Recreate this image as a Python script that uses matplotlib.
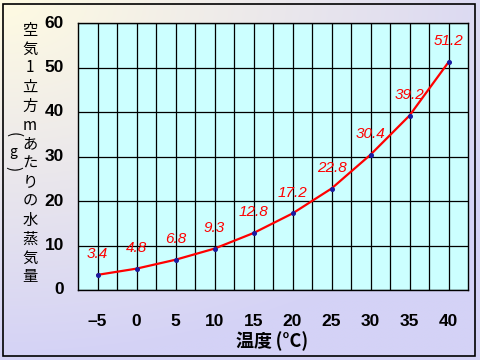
import numpy as np
import matplotlib
matplotlib.use("Agg")
from matplotlib import pyplot
from matplotlib.patches import Rectangle

# 気温ごとの飽和水蒸気量
temps = [-5, 0, 5, 10, 15, 20, 25, 30, 35, 40]
vapor = [3.4, 4.8, 6.8, 9.3, 12.8, 17.2, 22.8, 30.4, 39.2, 51.2]
point_labels = ["3.4", "4.8", "6.8", "9.3", "12.8", "17.2", "22.8", "30.4", "39.2", "51.2"]
xticks = [-5, 0, 5, 10, 15, 20, 25, 30, 35, 40]
xtick_labels = ["\u20135", "0", "5", "10", "15", "20", "25", "30", "35", "40"]
yticks = [0, 10, 20, 30, 40, 50, 60]
ylabel_chars = ["空", "気", "1", "立", "方", "m", "あ", "た", "り", "の", "水", "蒸", "気", "量"]
xlabel = "温度\u2009(°C)"

JP = ["Noto Sans CJK JP", "DejaVu Sans"]
LAT = ["Liberation Sans", "DejaVu Sans"]

W, H = 480, 360
fig = pyplot.figure(figsize=(4.8, 3.6), dpi=100)

# 背景のグラデーション (左上がクリーム色、右下がラベンダー)
bg = fig.add_axes([0, 0, 1, 1])
bg.set_axis_off()
yy, xx = np.mgrid[0:1:200j, 0:1:200j]
t = np.clip(np.sqrt((xx * 0.9) ** 2 + (yy * 1.1) ** 2) / 1.1, 0, 1)
c0 = np.array([255, 251, 226]) / 255
c1 = np.array([212, 210, 246]) / 255
img = c0[None, None, :] * (1 - t[..., None]) + c1[None, None, :] * t[..., None]
bg.imshow(img, extent=[0, 1, 0, 1], origin="upper", aspect="auto")
bg.set_xlim(0, 1)
bg.set_ylim(0, 1)
bg.add_patch(Rectangle((3 / W, 4 / H), 472 / W, 352 / H, fill=False,
                       edgecolor="black", linewidth=1.2))

ax = fig.add_axes([78 / W, 1 - 290 / H, 390 / W, 267 / H])
ax.set_facecolor("#ccffff")
ax.set_xlim(-7.5, 42.5)
ax.set_ylim(0, 60)
ax.set_xticks(np.arange(-5, 42.5, 2.5), minor=False)
ax.set_yticks(yticks)
ax.grid(True, color="black", linewidth=0.9)
ax.tick_params(length=0, labelbottom=False, labelleft=False)
for s in ax.spines.values():
    s.set_linewidth(1.0)
    s.set_color("black")

ax.plot(temps, vapor, color="#ff0000", linewidth=1.6, zorder=3)
ax.plot(temps, vapor, linestyle="none", marker="o", markersize=2.6,
        color="#1a1aa0", zorder=4)
for x, y, lab in zip(temps, vapor, point_labels):
    ax.annotate(lab, (x, y), xytext=(0, 10), textcoords="offset points",
                ha="center", va="bottom", color="#ff0000", fontsize=11,
                fontstyle="italic", family=LAT, zorder=5)

# 目盛ラベル
for x, lab in zip(xticks, xtick_labels):
    ax.annotate(lab, (x, 0), xytext=(0, -17), textcoords="offset points",
                ha="center", va="top", fontsize=12.5, fontweight="bold",
                family=LAT, annotation_clip=False)
for y in yticks:
    ax.annotate(str(y), (-7.5, y), xytext=(-10, 0), textcoords="offset points",
                ha="right", va="center", fontsize=12.5, fontweight="bold",
                family=LAT, annotation_clip=False)

fig.text(272 / W, 1 - 341 / H, xlabel, ha="center", va="center",
         fontsize=13, fontweight="bold", family=JP)

# 縦書きの軸ラベル
for i, ch in enumerate(ylabel_chars):
    fig.text(30 / W, 1 - (30 + 19 * i) / H, ch, ha="center", va="center",
             fontsize=11, family=JP)
fig.text(13 / W, 1 - 135 / H, "(", ha="center", va="center", fontsize=11,
         family=JP, rotation=-90)
fig.text(13 / W, 1 - 152 / H, "g", ha="center", va="center", fontsize=10,
         family=JP)
fig.text(13 / W, 1 - 169 / H, ")", ha="center", va="center", fontsize=11,
         family=JP, rotation=-90)

pyplot.savefig("out.png", dpi=100)
